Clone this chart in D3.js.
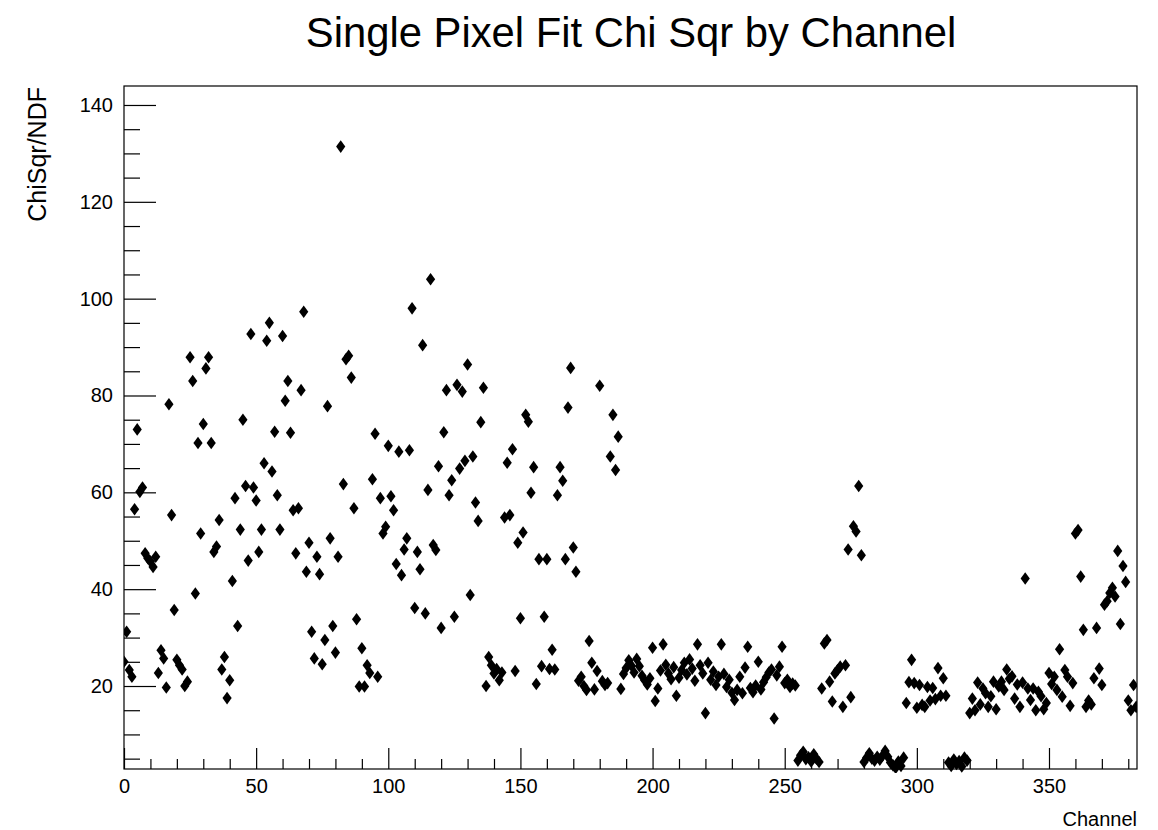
<!DOCTYPE html>
<html>
<head>
<meta charset="utf-8">
<script src="https://cdn.jsdelivr.net/npm/d3@7"></script>
<style>
  html, body { margin: 0; padding: 0; background: #fff; }
  svg { display: block; font-family: "Liberation Sans", Arial, Helvetica, sans-serif; }
</style>
</head>
<body>
<svg id="chart" width="1158" height="830"></svg>
<script>
// Reduced chi-square of the single-pixel fit, one entry per channel (index = channel number)
const chiSqrNdf = [
  25, 31.2, 23.3, 21.9, 56.5, 73, 60.1, 61, 47.4, 46.4,
  45.7, 44.6, 46.7, 22.7, 27.4, 25.7, 19.7, 78.2, 55.3, 35.7,
  25.4, 24.3, 23.4, 20, 20.9, 87.9, 83, 39.1, 70.2, 51.5,
  74.1, 85.6, 87.9, 70.2, 47.7, 48.8, 54.3, 23.4, 26, 17.5,
  21.2, 41.7, 58.8, 32.4, 52.3, 75, 61.3, 45.9, 92.7, 61,
  58.3, 47.7, 52.3, 66, 91.3, 95, 64.3, 72.5, 59.4, 52.3,
  92.3, 78.9, 83, 72.3, 56.3, 47.4, 56.7, 81.1, 97.3, 43.6,
  49.6, 31.2, 25.7, 46.7, 43.1, 24.5, 29.5, 77.8, 50.5, 32.4,
  26.9, 46.7, 131.4, 61.7, 87.5, 88.2, 83.7, 56.7, 33.8, 19.9,
  27.8, 19.9, 24.3, 22.7, 62.7, 72.1, 21.9, 58.8, 51.5, 52.9,
  69.6, 59.2, 56.3, 45.2, 68.4, 42.9, 48.2, 50.5, 68.7, 98,
  36.1, 47.7, 44.1, 90.4, 35, 60.5, 104, 49.1, 48.1, 65.4,
  32, 72.4, 81.1, 59.4, 62.5, 34.3, 82.2, 64.9, 80.8, 66.5,
  86.4, 38.8, 67.4, 57.9, 54.1, 74.5, 81.6, 20, 26, 24.3,
  22.6, 23.5, 21.2, 22.8, 54.8, 66.1, 55.3, 68.9, 23.1, 49.6,
  34, 51.7, 76, 74.6, 59.9, 65.2, 20.4, 46.2, 24.1, 34.3,
  46.2, 23.5, 27.5, 23.4, 59.4, 65.2, 62.4, 46.2, 77.5, 85.7,
  48.6, 43.6, 21.1, 21.9, 20, 19.2, 29.3, 24.8, 19.3, 23.1,
  82, 21, 20.2, 20.6, 67.4, 76, 64.6, 71.5, 19.4, 22.5,
  23.7, 25.3, 24.2, 22.8, 25.6, 24.1, 22.1, 21.2, 20.3, 21.6,
  27.9, 16.9, 19.5, 23.2, 28.6, 24.4, 22.6, 21.4, 23.9, 18,
  21.7, 23.3, 24.8, 22.4, 25.5, 23.6, 21.1, 28.6, 24.3, 22.6,
  14.4, 24.8, 21.3, 23, 20.2, 21.9, 28.6, 22.5, 19.8, 21.3,
  18.6, 17.1, 19.2, 21.9, 18.5, 23.8, 28.1, 19.6, 18.7, 20.1,
  25, 19.3, 20.8, 21.8, 22.8, 23.4, 13.3, 22.2, 24, 28.1,
  20.6, 21.3, 19.8, 20.5, 20.1, 4.6, 5.7, 6.4, 4.9, 5.3,
  4.4, 5.9, 5, 4.3, 19.5, 28.8, 29.5, 20.9, 16.8, 22.6,
  23.3, 24, 15.7, 24.3, 48.2, 17.7, 53, 51.9, 61.3, 47,
  4.3, 5.2, 6.1, 5, 4.6, 5.4, 4.8, 5.6, 6.6, 5.4,
  4.2, 3.6, 3.1, 4.4, 3.5, 5.2, 16.5, 20.8, 25.4, 20.6,
  15.5, 20.2, 16.1, 15.7, 19.8, 17, 19.6, 17.3, 23.7, 18,
  21.6, 18, 4.2, 3.5, 4.8, 3.9, 4.5, 3.4, 5.2, 4.6,
  14.4, 17.4, 15, 20.7, 16.2, 19.5, 18.5, 15.7, 17.9, 20.9,
  15.2, 19.9, 20.9, 19.2, 23.4, 21.5, 22, 17.4, 20.3, 15.7,
  20.7, 42.2, 19.5, 17.1, 19.5, 15, 18.8, 17.9, 15.2, 16.5,
  22.7, 20.4, 21.9, 19.2, 27.6, 17.8, 23.3, 21.9, 15.9, 20.6,
  51.5, 52.2, 42.6, 31.6, 15.7, 17, 16.2, 21.6, 32, 23.6,
  20.2, 36.8, 37.5, 39.2, 40.3, 38.5, 47.9, 32.8, 44.8, 41.5,
  17, 15, 20.2, 15.7
];
const channels = chiSqrNdf.map((_, i) => i);

// Axis ranges and tick values
const xRange = [0, 383.3];
const yRange = [2.86, 143.92];
const xMajorTicks = [0, 50, 100, 150, 200, 250, 300, 350];
const xMinorTicks = d3.range(10, 384, 10).filter(v => v % 50 !== 0);
const yMajorTicks = [20, 40, 60, 80, 100, 120, 140];
const yMinorTicks = d3.range(5, 144, 5).filter(v => v % 20 !== 0);

const titleText = "Single Pixel Fit Chi Sqr by Channel";
const xTitle = "Channel";
const yTitle = "ChiSqr/NDF";

const frame = { left: 124, top: 86, right: 1137, bottom: 769 };

const svg = d3.select("#chart");
svg.append("rect").attr("width", 1158).attr("height", 830).attr("fill", "#fff");

const x = d3.scaleLinear().domain(xRange).range([frame.left, frame.right]);
const y = d3.scaleLinear().domain(yRange).range([frame.bottom, frame.top]);

svg.append("defs").append("clipPath").attr("id", "plotClip")
  .append("rect")
  .attr("x", frame.left).attr("y", frame.top)
  .attr("width", frame.right - frame.left)
  .attr("height", frame.bottom - frame.top + 4);

// Data markers: filled diamonds
const diamond = "M0,-6.3L4.6,0L0,6.3L-4.6,0Z";
svg.append("g").attr("clip-path", "url(#plotClip)")
  .selectAll("path")
  .data(channels)
  .join("path")
  .attr("d", diamond)
  .attr("transform", c => `translate(${x(c)},${y(chiSqrNdf[c])})`)
  .attr("fill", "#000");

// Frame
svg.append("rect")
  .attr("x", frame.left).attr("y", frame.top)
  .attr("width", frame.right - frame.left)
  .attr("height", frame.bottom - frame.top)
  .attr("fill", "none").attr("stroke", "#000").attr("stroke-width", 1.2);

// X axis (ticks point into the frame)
const xAxisMajor = d3.axisBottom(x).tickValues(xMajorTicks).tickSize(-21).tickPadding(10)
  .tickFormat(d3.format("d"));
const xAxisMinor = d3.axisBottom(x).tickValues(xMinorTicks).tickSize(-10).tickFormat("");
const gxMinor = svg.append("g").attr("transform", `translate(0,${frame.bottom})`).call(xAxisMinor);
const gx = svg.append("g").attr("transform", `translate(0,${frame.bottom})`).call(xAxisMajor);

// Y axis
const yAxisMajor = d3.axisLeft(y).tickValues(yMajorTicks).tickSize(-32).tickPadding(11)
  .tickFormat(d3.format("d"));
const yAxisMinor = d3.axisLeft(y).tickValues(yMinorTicks).tickSize(-16).tickFormat("");
const gyMinor = svg.append("g").attr("transform", `translate(${frame.left},0)`).call(yAxisMinor);
const gy = svg.append("g").attr("transform", `translate(${frame.left},0)`).call(yAxisMajor);

[gx, gxMinor, gy, gyMinor].forEach(g => {
  g.select(".domain").remove();
  g.selectAll("line").attr("stroke", "#000").attr("stroke-width", 1.2);
  g.selectAll("text").attr("fill", "#000").attr("font-size", 20)
    .attr("font-family", "'Liberation Sans', Arial, Helvetica, sans-serif");
});

// Titles
svg.append("text")
  .attr("x", 631).attr("y", 47)
  .attr("text-anchor", "middle")
  .attr("font-size", 41.8)
  .attr("fill", "#000")
  .text(titleText);

svg.append("text")
  .attr("x", frame.right).attr("y", 826)
  .attr("text-anchor", "end")
  .attr("font-size", 20)
  .attr("fill", "#000")
  .text(xTitle);

svg.append("text")
  .attr("transform", `translate(46,${frame.top + 1}) rotate(-90)`)
  .attr("text-anchor", "end")
  .attr("font-size", 25)
  .attr("fill", "#000")
  .text(yTitle);
</script>
</body>
</html>
